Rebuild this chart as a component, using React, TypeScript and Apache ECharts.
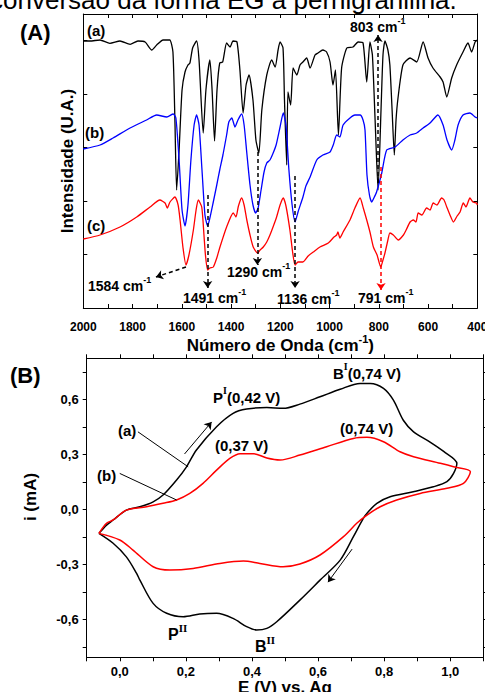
import React, { useEffect, useRef } from "react";
import * as echarts from "echarts";

// ---------- Panel (A): FTIR spectra, [wavenumber cm-1, intensity (U.A.)] ----------
const spectrumA: [number, number][] = [
  [2000, 267], [1973, 267], [1932, 268], [1892, 264.7], [1851, 267], [1810, 263.7], [1778, 267],
  [1749, 266], [1722, 258], [1702, 263], [1676, 268], [1649, 268], [1636, 256], [1628, 188],
  [1621, 118], [1611, 158], [1599, 218], [1587, 236], [1575, 243], [1567, 245], [1556, 260],
  [1540, 267], [1530, 248], [1513, 175], [1502, 218], [1486, 248], [1477, 218], [1467, 167],
  [1457, 218], [1446, 245], [1434, 246], [1418, 265], [1404, 261], [1392, 267], [1376, 266],
  [1364, 238], [1351, 195], [1339, 223], [1327, 233], [1311, 208], [1299, 168], [1287, 155],
  [1275, 198], [1255, 233], [1235, 248], [1221, 241], [1209, 258], [1201, 266], [1189, 260],
  [1183, 208], [1174, 143], [1169, 216], [1158, 203], [1148, 240], [1133, 233], [1120, 243],
  [1108, 246], [1093, 250], [1079, 240], [1059, 253], [1047, 255], [1027, 258], [1012, 256],
  [998, 246], [986, 223], [976, 238], [964, 173], [951, 240], [930, 260], [905, 261], [884, 266],
  [864, 265], [849, 226], [836, 266], [826, 253], [815, 188], [803, 118], [791, 198], [783, 253],
  [775, 267], [763, 258], [755, 243], [746, 198], [737, 153], [730, 188], [722, 210], [702, 243],
  [673, 250], [646, 246], [620, 266], [600, 250], [580, 240], [551, 231], [539, 226], [524, 211],
  [504, 230], [484, 243], [458, 256], [438, 265], [423, 256], [409, 266], [400, 268],
];

const spectrumB: [number, number][] = [
  [2000, 159], [1932, 163], [1879, 170], [1810, 180], [1743, 188], [1702, 193], [1661, 191],
  [1635, 194], [1624, 190], [1611, 148], [1599, 98], [1587, 82], [1575, 103], [1563, 148],
  [1550, 183], [1540, 193], [1530, 183], [1518, 138], [1506, 93], [1495, 82], [1486, 90],
  [1473, 105], [1458, 123], [1446, 138], [1433, 153], [1418, 173], [1409, 186], [1397, 190],
  [1384, 181], [1372, 188], [1357, 194], [1347, 183], [1336, 155], [1323, 123], [1311, 103],
  [1300, 95], [1290, 100], [1278, 118], [1266, 136], [1255, 145], [1242, 148], [1229, 155],
  [1217, 163], [1201, 181], [1188, 195], [1177, 183], [1165, 138], [1152, 103], [1140, 86],
  [1128, 96], [1108, 111], [1096, 122], [1079, 131], [1052, 148], [1027, 153], [998, 156],
  [985, 163], [971, 173], [958, 171], [945, 183], [917, 190], [897, 193], [876, 193], [864, 188],
  [856, 178], [848, 133], [838, 113], [829, 106], [820, 110], [809, 116], [788, 135], [768, 158],
  [734, 161], [702, 168], [673, 173], [646, 175], [620, 180], [592, 185], [560, 193], [539, 183],
  [523, 168], [504, 158], [491, 168], [478, 183], [458, 193], [430, 195], [409, 191], [400, 190],
];

const spectrumC: [number, number][] = [
  [2000, 69], [1932, 73], [1851, 81], [1783, 91], [1729, 101], [1689, 108], [1668, 105],
  [1659, 100], [1648, 106], [1628, 111], [1615, 103], [1607, 88], [1595, 60], [1583, 43],
  [1571, 53], [1553, 78], [1542, 98], [1533, 108], [1519, 101], [1510, 73], [1504, 53],
  [1495, 38], [1486, 40], [1472, 41], [1458, 50], [1445, 61], [1418, 81], [1391, 95], [1380, 91],
  [1370, 102], [1357, 110], [1347, 103], [1336, 88], [1323, 73], [1310, 61], [1292, 55],
  [1282, 58], [1269, 61], [1255, 66], [1242, 73], [1228, 82], [1215, 91], [1201, 103],
  [1188, 110], [1177, 102], [1161, 78], [1150, 56], [1140, 43], [1128, 46], [1108, 46],
  [1087, 52], [1066, 56], [1039, 61], [1005, 65], [982, 71], [971, 73], [966, 76], [958, 70],
  [945, 76], [917, 88], [897, 100], [876, 110], [863, 100], [849, 88], [836, 76], [822, 61],
  [807, 53], [792, 41], [783, 48], [775, 55], [763, 68], [755, 75], [741, 73], [730, 70],
  [721, 68], [700, 73], [689, 78], [673, 86], [660, 88], [649, 86], [640, 95], [625, 93],
  [606, 100], [592, 98], [579, 105], [564, 103], [545, 110], [535, 108], [524, 101], [511, 93],
  [497, 86], [482, 92], [470, 96], [457, 105], [446, 101], [430, 110], [418, 106], [403, 105],
  [400, 103],
];

// band markers: dashed line from (w, from) to (toW, to), arrow at the "to" end
const bandMarks: { w: number; from: number; to: number; toW: number; color: string }[] = [
  { w: 803, from: 125, to: 273, toW: 803, color: "#000" },
  { w: 791, from: 141, to: 18, toW: 791, color: "#ff0000" },
  { w: 1583, from: 41, to: 31, toW: 1705, color: "#000" },
  { w: 1495, from: 113, to: 20, toW: 1495, color: "#000" },
  { w: 1293, from: 156, to: 43, toW: 1293, color: "#000" },
  { w: 1140, from: 132, to: 20, toW: 1140, color: "#000" },
];

// ---------- Panel (B): cyclic voltammograms, [E (V), i (mA)] ----------
const cvA: [number, number][] = [
  [-0.063, -0.131], [-0.04, -0.086], [-0.02, -0.058], [0.02, -0.004], [0.061, 0.014],
  [0.101, 0.041], [0.131, 0.078], [0.172, 0.16], [0.202, 0.232], [0.232, 0.324], [0.293, 0.451],
  [0.343, 0.524], [0.384, 0.547], [0.445, 0.556], [0.495, 0.551], [0.545, 0.574], [0.606, 0.614],
  [0.667, 0.655], [0.727, 0.687], [0.758, 0.687], [0.798, 0.66], [0.828, 0.596], [0.858, 0.486],
  [0.889, 0.423], [0.939, 0.367], [0.98, 0.316], [1.02, 0.251],
  [1.01, 0.196], [0.99, 0.151], [0.949, 0.123], [0.888, 0.096], [0.818, 0.069], [0.778, 0.033],
  [0.752, -0.013], [0.737, -0.049], [0.707, -0.149], [0.667, -0.277], [0.606, -0.386],
  [0.545, -0.495], [0.475, -0.613], [0.445, -0.649], [0.414, -0.658], [0.384, -0.64],
  [0.343, -0.595], [0.293, -0.567], [0.242, -0.571], [0.192, -0.586], [0.142, -0.567],
  [0.101, -0.513], [0.061, -0.386], [0.051, -0.349], [0.02, -0.259], [-0.02, -0.185],
  [-0.063, -0.131],
];

const cvB: [number, number][] = [
  [-0.063, -0.131], [-0.04, -0.076], [-0.02, -0.058], [0.02, -0.004], [0.081, 0.014],
  [0.131, 0.033], [0.172, 0.051], [0.212, 0.087], [0.252, 0.142], [0.293, 0.214], [0.333, 0.278],
  [0.364, 0.304], [0.404, 0.304], [0.445, 0.28], [0.485, 0.269], [0.545, 0.296], [0.626, 0.342],
  [0.707, 0.387], [0.748, 0.393], [0.798, 0.369], [0.848, 0.314], [0.889, 0.287], [0.97, 0.251],
  [1.01, 0.232], [1.061, 0.205],
  [1.04, 0.142], [0.99, 0.115], [0.909, 0.087], [0.838, 0.051], [0.788, 0.014], [0.748, -0.031],
  [0.717, -0.076], [0.677, -0.149], [0.606, -0.249], [0.545, -0.298], [0.494, -0.313],
  [0.424, -0.295], [0.374, -0.282], [0.303, -0.295], [0.222, -0.322], [0.152, -0.331],
  [0.101, -0.313], [0.04, -0.222], [0.0, -0.167], [-0.063, -0.131],
];

const cvYLabels = [-0.6, -0.3, 0, 0.3, 0.6];
const cvYTicks = [-0.75, -0.6, -0.45, -0.3, -0.15, 0, 0.15, 0.3, 0.45, 0.6, 0.75];

// leader lines & sweep arrows in (E, i)
const cvLeaders: [number, number][][] = [
  [[0.055, 0.423], [0.207, 0.232]],
  [[0.0, 0.196], [0.172, 0.051]],
];
const cvArrows: [number, number][][] = [
  [[0.196, 0.302], [0.278, 0.477]],
  [[0.703, -0.217], [0.63, -0.397]],
];

const SANS = '"Liberation Sans", Arial, sans-serif';
const SERIF = '"Liberation Serif", "Times New Roman", serif';

function supText(x: number, y: number, main: string, sup: string, after: string, size: number, supSize: number, supFont: string) {
  return {
    type: "text",
    x,
    y,
    style: {
      legacy: false,
      text: `{m|${main}}{s|${sup}}{m|${after}}`,
      align: "left",
      verticalAlign: "middle",
      fill: "#000",
      rich: {
        m: { fontSize: size, fontWeight: "bold", fontFamily: SANS, fill: "#000", lineHeight: size + 8 },
        s: { fontSize: supSize, fontWeight: "bold", fontFamily: supFont, fill: "#000", lineHeight: supSize, verticalAlign: "top" },
      },
    },
  };
}

function plainText(x: number, y: number, text: string, size: number, weight = "bold", align = "left", rotation = 0) {
  return {
    type: "text",
    x,
    y,
    rotation,
    style: {
      legacy: false,
      text,
      align,
      verticalAlign: "middle",
      fill: "#000",
      font: `${weight} ${size}px ${SANS}`,
    },
  };
}

export default function App() {
  const ref = useRef<HTMLDivElement>(null);

  useEffect(() => {
    document.body.style.margin = "0";
    if (!ref.current) return;
    const chart = echarts.init(ref.current, null, { renderer: "svg" });

    const axisLine = { show: true, onZero: false, lineStyle: { color: "#000", width: 1 } };
    const tickLbl = { fontFamily: SANS, fontWeight: "bold", color: "#000" } as any;

    const bandMarkData = bandMarks.map((b) => [
      { coord: [b.w, b.from], symbol: "none", lineStyle: { color: b.color } },
      { coord: [b.toW, b.to], symbol: "arrow", lineStyle: { color: b.color } },
    ]);

    const option: any = {
      animation: false,
      grid: [
        { left: 83.3, top: 14, width: 394, height: 294, containLabel: false, outerBoundsMode: "none" },
        { left: 86.7, top: 358.3, width: 396.6, height: 299, containLabel: false, outerBoundsMode: "none" },
      ],
      xAxis: [
        {
          gridIndex: 0, type: "value", min: 400, max: 2000, interval: 100, inverse: true,
          axisLine, axisTick: { show: true, inside: true, length: 4, lineStyle: { color: "#000" } },
          axisLabel: { ...tickLbl, fontSize: 12, margin: 13, formatter: (v: number) => (v % 200 === 0 ? String(v) : "") },
          splitLine: { show: false },
          name: "{t|Número de Onda (cm}{s|-1}{t|)}",
          nameLocation: "middle", nameGap: 16,
          nameTextStyle: {
            rich: {
              t: { fontSize: 17, fontWeight: "bold", fontFamily: SANS, color: "#000", lineHeight: 24 },
              s: { fontSize: 11, fontWeight: "bold", fontFamily: SANS, color: "#000", lineHeight: 11, verticalAlign: "top" },
            },
          },
        },
        {
          gridIndex: 0, type: "value", min: 400, max: 2000, interval: 100, inverse: true, position: "top",
          axisLine, axisTick: { show: true, inside: true, length: 4, lineStyle: { color: "#000" } },
          axisLabel: { show: false }, splitLine: { show: false },
        },
        {
          gridIndex: 1, type: "value", min: -0.1, max: 1.1, interval: 0.1,
          axisLine, axisTick: { show: true, inside: false, length: 4, lineStyle: { color: "#000" } },
          axisLabel: {
            ...tickLbl, fontSize: 13, margin: 8,
            formatter: (v: number) => (Math.abs(Math.round(v * 10)) % 2 === 0 ? v.toFixed(1).replace(".", ",") : ""),
          },
          splitLine: { show: false },
          name: "E (V) vs. Ag", nameLocation: "middle", nameGap: 21,
          nameTextStyle: { fontSize: 17, fontWeight: "bold", fontFamily: SANS, color: "#000" },
        },
        {
          gridIndex: 1, type: "value", min: -0.1, max: 1.1, interval: 0.1, position: "top",
          axisLine, axisTick: { show: true, inside: false, length: 4, lineStyle: { color: "#000" } },
          axisLabel: { show: false }, splitLine: { show: false },
        },
      ],
      yAxis: [
        {
          gridIndex: 0, type: "value", min: 0, max: 294, interval: 53.5,
          axisLine, axisTick: { show: true, inside: true, length: 4, lineStyle: { color: "#000" } },
          axisLabel: { show: false }, splitLine: { show: false },
          name: "Intensidade (U.A.)", nameLocation: "middle", nameGap: 7, nameRotate: 90,
          nameTextStyle: { fontSize: 17, fontWeight: "bold", fontFamily: SANS, color: "#000" },
        },
        {
          gridIndex: 0, type: "value", min: 0, max: 294, interval: 53.5, position: "right",
          axisLine, axisTick: { show: true, inside: true, length: 4, lineStyle: { color: "#000" } },
          axisLabel: { show: false }, splitLine: { show: false },
        },
        {
          gridIndex: 1, type: "value", min: -0.807, max: 0.824,
          axisLine,
          axisTick: { show: true, inside: false, length: 4, customValues: cvYTicks, lineStyle: { color: "#000" } },
          axisLabel: {
            ...tickLbl, fontSize: 13, margin: 8, customValues: cvYLabels,
            formatter: (v: number) => v.toFixed(1).replace(".", ","),
          },
          splitLine: { show: false },
        },
        {
          gridIndex: 1, type: "value", min: -0.807, max: 0.824, position: "right",
          axisLine,
          axisTick: { show: true, inside: false, length: 4, customValues: cvYTicks, lineStyle: { color: "#000" } },
          axisLabel: { show: false }, splitLine: { show: false },
        },
      ],
      series: [
        {
          name: "(a)", type: "line", xAxisIndex: 0, yAxisIndex: 0, data: spectrumA, showSymbol: false,
          smooth: 0.2, lineStyle: { color: "#000", width: 1.3 }, itemStyle: { color: "#000" },
        },
        {
          name: "(b)", type: "line", xAxisIndex: 0, yAxisIndex: 0, data: spectrumB, showSymbol: false,
          smooth: 0.2, lineStyle: { color: "#0000ff", width: 1.3 }, itemStyle: { color: "#0000ff" },
        },
        {
          name: "(c)", type: "line", xAxisIndex: 0, yAxisIndex: 0, data: spectrumC, showSymbol: false,
          smooth: 0.2, lineStyle: { color: "#ff0000", width: 1.3 }, itemStyle: { color: "#ff0000" },
          markLine: {
            silent: true, symbolSize: 7, label: { show: false },
            lineStyle: { type: [4, 3], width: 1.5, color: "#000" },
            data: bandMarkData,
          },
        },
        {
          name: "CV (a)", type: "line", xAxisIndex: 2, yAxisIndex: 2, data: cvA, showSymbol: false,
          smooth: 0.3, lineStyle: { color: "#000", width: 1.5 }, itemStyle: { color: "#000" },
          markLine: {
            silent: true, symbolSize: 7, label: { show: false },
            lineStyle: { type: "solid", width: 1, color: "#000" },
            data: [
              ...cvLeaders.map((l) => [{ coord: l[0], symbol: "none" }, { coord: l[1], symbol: "none" }]),
              ...cvArrows.map((l) => [{ coord: l[0], symbol: "none" }, { coord: l[1], symbol: "arrow" }]),
            ],
          },
        },
        {
          name: "CV (b)", type: "line", xAxisIndex: 2, yAxisIndex: 2, data: cvB, showSymbol: false,
          smooth: 0.3, lineStyle: { color: "#ff0000", width: 1.5 }, itemStyle: { color: "#ff0000" },
        },
      ],
      graphic: [
        plainText(-10, 0, "conversão da forma EG à pernigranilina.", 26, "normal"),
        plainText(20, 32, "(A)", 22),
        plainText(87, 30, "(a)", 15),
        plainText(85, 132, "(b)", 15),
        plainText(87, 225, "(c)", 15),
        supText(350, 27, "803 cm", "-1", "", 14, 9, SANS),
        supText(88, 286, "1584 cm", "-1", "", 14, 9, SANS),
        supText(183, 298, "1491 cm", "-1", "", 14, 9, SANS),
        supText(227, 272, "1290 cm", "-1", "", 14, 9, SANS),
        supText(277, 299, "1136 cm", "-1", "", 14, 9, SANS),
        supText(358, 298, "791 cm", "-1", "", 14, 9, SANS),
        plainText(10, 375, "(B)", 22),
        plainText(30, 497, "i (mA)", 17, "bold", "center", Math.PI / 2),
        supText(333, 373, "B", "I", "(0,74 V)", 15, 10, SERIF),
        supText(213, 397, "P", "I", "(0,42 V)", 15, 10, SERIF),
        plainText(340, 428, "(0,74 V)", 15),
        plainText(215, 445, "(0,37 V)", 15),
        plainText(118, 430, "(a)", 15),
        plainText(97, 475, "(b)", 15),
        supText(168, 634, "P", "II", "", 16, 11, SERIF),
        supText(255, 646, "B", "II", "", 16, 11, SERIF),
      ],
    };

    chart.setOption(option);
    return () => chart.dispose();
  }, []);

  return <div ref={ref} style={{ width: 485, height: 692 }} />;
}
